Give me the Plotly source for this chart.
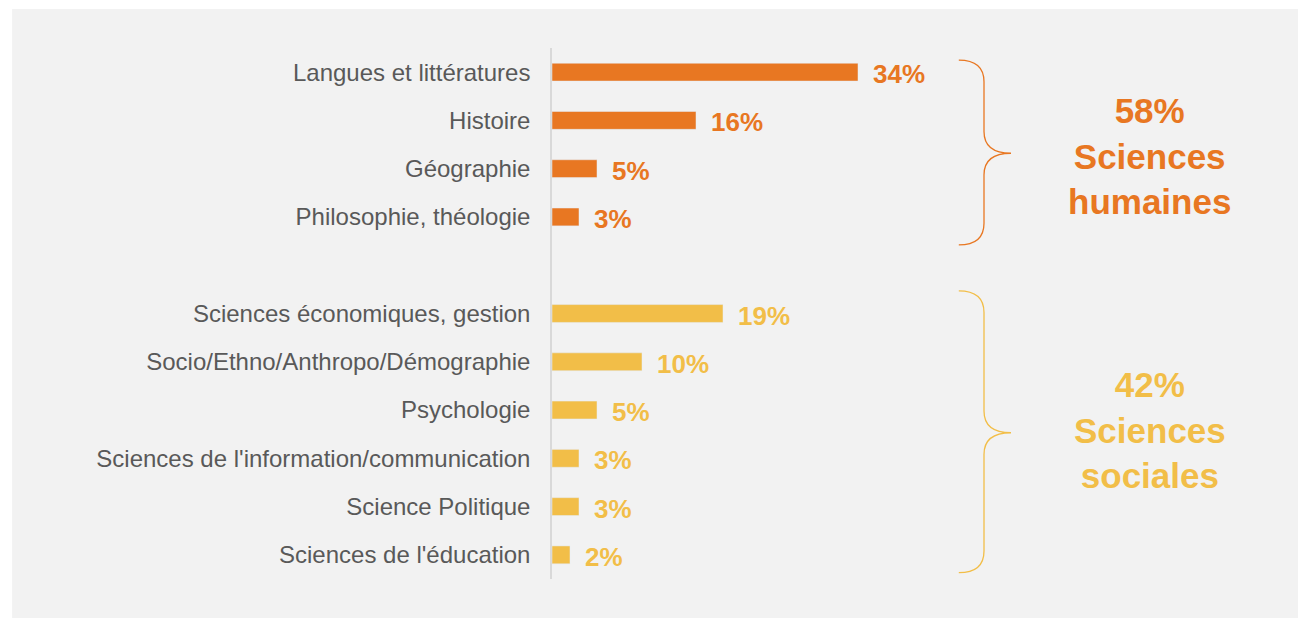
import plotly.graph_objects as go

# categories, top to bottom, split in two groups
cats_hum = ["Langues et littératures", "Histoire", "Géographie", "Philosophie, théologie"]
vals_hum = [34, 16, 5, 3]
cats_soc = ["Sciences économiques, gestion", "Socio/Ethno/Anthropo/Démographie", "Psychologie",
            "Sciences de l'information/communication", "Science Politique", "Sciences de l'éducation"]
vals_soc = [19, 10, 5, 3, 3, 2]
group_totals = [58, 42]
group_names = ["Sciences humaines", "Sciences sociales"]

ORANGE = "#E87722"
YELLOW = "#F2BE48"
GREY_TXT = "#595959"
FONT = "Liberation Sans, Arial, sans-serif"

# one empty slot between the two groups
pos_hum = list(range(len(cats_hum)))
pos_soc = [len(cats_hum) + 1 + i for i in range(len(cats_soc))]

fig = go.Figure()
fig.add_bar(x=vals_hum, y=pos_hum, orientation="h", marker_color=ORANGE, width=0.37, showlegend=False)
fig.add_bar(x=vals_soc, y=pos_soc, orientation="h", marker_color=YELLOW, width=0.37, showlegend=False)

# value labels
for vals, pos, col in [(vals_hum, pos_hum, ORANGE), (vals_soc, pos_soc, YELLOW)]:
    for v, p in zip(vals, pos):
        fig.add_annotation(x=v, y=p, text=f"{v}%", showarrow=False, xanchor="left",
                           xshift=13, yshift=-2,
                           font=dict(family=FONT, size=26, color=col, weight="bold"))

# curly braces + group labels
def brace(top, bottom, mid, col):
    xa, xb, xc = 45.2, 48.0, 51.0
    r = 0.45
    path = (f"M {xa},{top} Q {xb},{top} {xb},{top + r} L {xb},{mid - r} "
            f"Q {xb},{mid} {xc},{mid} Q {xb},{mid} {xb},{mid + r} "
            f"L {xb},{bottom - r} Q {xb},{bottom} {xa},{bottom}")
    fig.add_shape(type="path", path=path, xref="x", yref="y",
                  line=dict(color=col, width=1.3))

brace(-0.25, 3.58, 1.68, ORANGE)
brace(4.53, 10.37, 7.47, YELLOW)

for tot, name, ymid, col in [(group_totals[0], group_names[0], 1.74, ORANGE),
                             (group_totals[1], group_names[1], 7.41, YELLOW)]:
    fig.add_annotation(x=66.4, y=ymid, text=f"{tot}%<br>" + name.replace(" ", "<br>"),
                       showarrow=False, xanchor="center", yanchor="middle",
                       font=dict(family=FONT, size=35, color=col, weight="bold"))

# grey panel behind everything
fig.add_shape(type="rect", xref="paper", yref="paper", x0=-0.716, x1=1.02, y0=-0.09, y1=1.0734,
              fillcolor="#F2F2F2", line_width=0, layer="below")

fig.update_yaxes(tickvals=pos_hum + pos_soc, ticktext=cats_hum + cats_soc,
                 range=[10.5, -0.5], autorange=False, showgrid=False, zeroline=False,
                 showline=True, linecolor="#D9D9D9", linewidth=1.5,
                 ticks="outside", ticklen=15, tickcolor="rgba(0,0,0,0)",
                 tickfont=dict(family=FONT, size=24, color=GREY_TXT))
fig.update_xaxes(range=[0, 754 / 9], autorange=False, showgrid=False, zeroline=False,
                 showticklabels=False, showline=False)

# page body has an 8px margin, so the figure is 8px smaller and shifted
fig.update_layout(width=1298, height=610, margin=dict(l=544, r=0, t=40, b=39),
                  paper_bgcolor="white", plot_bgcolor="rgba(0,0,0,0)",
                  font=dict(family=FONT))

fig.write_html("out.html")
